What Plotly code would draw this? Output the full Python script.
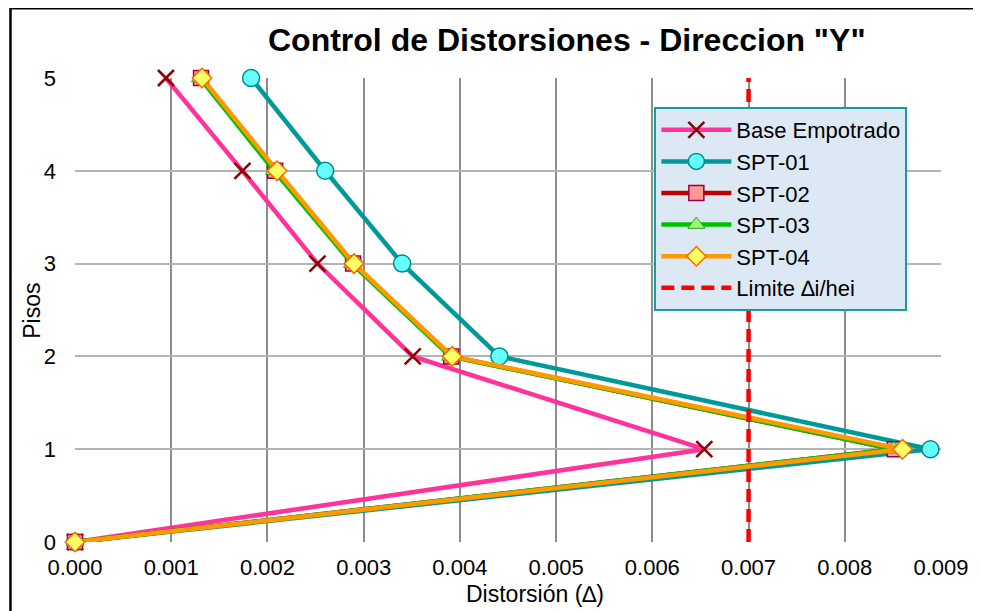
import plotly.graph_objects as go

pisos = [0, 1, 2, 3, 4, 5]
base_empotrado = [0.0, 0.00654, 0.00351, 0.00252, 0.00174, 0.000945]
spt01 = [0.0, 0.00889, 0.00441, 0.00340, 0.00260, 0.00183]
spt02 = [0.0, 0.00852, 0.00391, 0.00289, 0.00208, 0.00131]
spt03 = [0.0, 0.00851, 0.00390, 0.00288, 0.00207, 0.00130]
spt04 = [0.0, 0.00860, 0.00392, 0.00290, 0.00210, 0.00132]
limite_x = [0.007, 0.007]
limite_y = [0, 5]

x_ticks = [0.000, 0.001, 0.002, 0.003, 0.004, 0.005, 0.006, 0.007, 0.008, 0.009]
y_ticks = [0, 1, 2, 3, 4, 5]

FONT = "Liberation Sans, Arial, sans-serif"

fig = go.Figure()

series = [
    ("Base Empotrado", base_empotrado, "#ff3399", dict(symbol="x-thin", size=16, color="#8b0000",
                                                       line=dict(color="#8b0000", width=2.5))),
    ("SPT-01", spt01, "#009999", dict(symbol="circle", size=17, color="#66ffff",
                                      line=dict(color="#008b8b", width=1.5))),
    ("SPT-02", spt02, "#c00000", dict(symbol="square", size=15, color="#ff9999",
                                      line=dict(color="#99003d", width=1.5))),
    ("SPT-03", spt03, "#00c000", dict(symbol="triangle-up", size=15, color="#99ff66",
                                      line=dict(color="#33a02c", width=1))),
    ("SPT-04", spt04, "#ff9900", dict(symbol="diamond", size=15, color="#ffff66",
                                      line=dict(color="#ff6600", width=1.5))),
]

for name, vals, col, mk in series:
    fig.add_trace(go.Scatter(
        x=vals, y=pisos, name=name, mode="lines+markers",
        line=dict(color=col, width=4.5),
        marker=mk, cliponaxis=False,
    ))

fig.add_trace(go.Scatter(
    x=limite_x, y=limite_y, name="Limite \u2206i/hei", mode="lines",
    line=dict(color="#ff0000", width=4.5, dash="13px,7px"), cliponaxis=False,
))

fig.update_layout(
    width=973, height=603,
    margin=dict(l=67, r=33, t=70, b=69),
    paper_bgcolor="white", plot_bgcolor="white",
    font=dict(family=FONT, size=22, color="black"),
    showlegend=True,
    legend=dict(
        x=0.669, y=0.9375, xanchor="left", yanchor="top",
        bgcolor="#dde8f5", bordercolor="#1a9a9a", borderwidth=2,
        font=dict(family=FONT, size=22, color="black"),
        itemwidth=70, tracegroupgap=0,
    ),
    xaxis=dict(
        range=[0, 0.009], tickvals=x_ticks, tickformat=".3f",
        showgrid=True, gridcolor="#8c8c8c", gridwidth=2,
        zeroline=False, showline=False, ticks="", ticklabelstandoff=10,
        ticklabeloverflow="allow",
        tickfont=dict(family=FONT, size=22),
    ),
    yaxis=dict(
        range=[0, 5], tickvals=y_ticks,
        showgrid=True, gridcolor="#b4b4b4", gridwidth=2,
        zeroline=False, showline=False, ticks="", ticklabelstandoff=18,
        tickfont=dict(family=FONT, size=22),
    ),
    annotations=[
        dict(text="<b>Control de Distorsiones - Direccion \"Y\"</b>", x=0.568, y=1.0819,
             xref="paper", yref="paper", xanchor="center", yanchor="middle",
             showarrow=False, font=dict(family=FONT, size=32, color="black")),
        dict(text="Distorsión (\u2206)", x=0.531, y=-0.1125,
             xref="paper", yref="paper", xanchor="center", yanchor="middle",
             showarrow=False, font=dict(family=FONT, size=23, color="black")),
        dict(text="Pisos", x=-0.0493, y=0.499,
             xref="paper", yref="paper", xanchor="center", yanchor="middle",
             textangle=-90, showarrow=False, font=dict(family=FONT, size=23, color="black")),
    ],
    shapes=[
        dict(type="line", xref="paper", yref="paper", x0=-0.0745, x1=1.2, y0=1.1509, y1=1.1509,
             line=dict(color="black", width=3)),
        dict(type="line", xref="paper", yref="paper", x0=-0.0745, x1=-0.0745, y0=1.1509, y1=-0.3,
             line=dict(color="black", width=2.5)),
    ],
)

fig.write_html("out.html")
